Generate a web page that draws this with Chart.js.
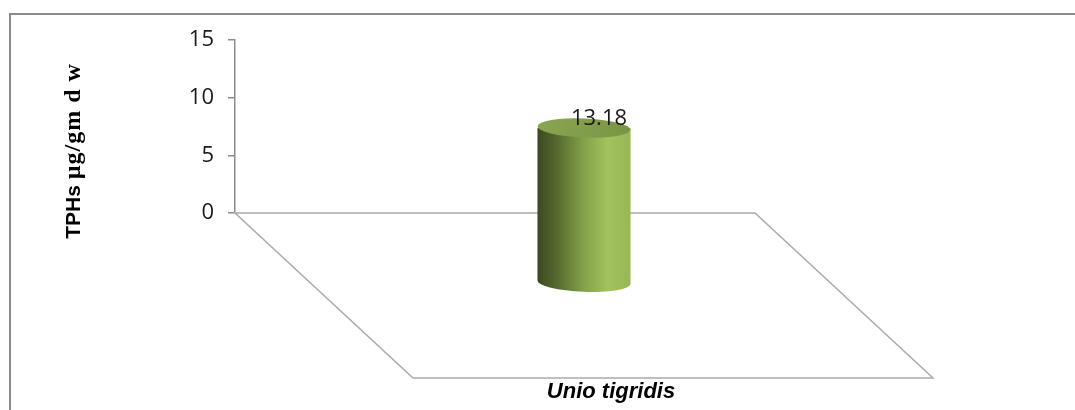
<!DOCTYPE html>
<html>
<head>
<meta charset="utf-8">
<script src="https://cdn.jsdelivr.net/npm/chart.js@4"></script>
<style>
  html, body { margin: 0; padding: 0; background: #fff; }
  #wrap { width: 1075px; height: 410px; position: relative; }
</style>
</head>
<body>
<div id="wrap"><canvas id="chart" width="1075" height="410"></canvas></div>
<script>
// data
const species = ['Unio tigridis'];
const tphs = [13.18];
const yTicks = [0, 5, 10, 15];

// floor depth (back edge -> front edge) and where the cylinder sits on it
const depthX = 178, depthY = 165;
const barShiftX = 89, barShiftY = 70;

const floorAndCylinder = {
  id: 'floorAndCylinder',
  beforeDraw(chart) {
    const c = chart.ctx;
    c.save();
    c.fillStyle = '#fff';
    c.fillRect(0, 0, chart.width, chart.height);
    // outer frame (top + left only)
    c.strokeStyle = '#8c8c8c';
    c.lineWidth = 2;
    c.beginPath();
    c.moveTo(10, 410);
    c.lineTo(10, 14);
    c.lineTo(1075, 14);
    c.stroke();
    c.restore();
  },
  beforeDatasetsDraw(chart) {
    const c = chart.ctx, a = chart.chartArea;
    const y0 = chart.scales.y.getPixelForValue(0);
    c.save();
    c.strokeStyle = '#ababab';
    c.lineWidth = 1.5;
    c.beginPath();
    c.moveTo(a.left, y0);
    c.lineTo(a.right, y0);
    c.lineTo(a.right + depthX, y0 + depthY);
    c.lineTo(a.left + depthX, y0 + depthY);
    c.closePath();
    c.stroke();
    c.restore();
  },
  afterDatasetsDraw(chart) {
    const c = chart.ctx;
    const meta = chart.getDatasetMeta(0);
    meta.data.forEach((bar, i) => {
      const cx = bar.x + barShiftX;
      const top = bar.y + barShiftY - 3;
      const base = bar.base + barShiftY;
      const rx = bar.width / 2;
      const ry = 9.5;
      const tilt = 0.04;
      c.save();
      const g = c.createLinearGradient(cx - rx, 0, cx + rx, 0);
      g.addColorStop(0, '#3c4a20');
      g.addColorStop(0.2, '#54672d');
      g.addColorStop(0.5, '#84a24a');
      g.addColorStop(0.75, '#a1c25d');
      g.addColorStop(1, '#97b655');
      c.fillStyle = g;
      c.beginPath();
      c.moveTo(cx - rx, top);
      c.lineTo(cx - rx, base);
      c.ellipse(cx, base, rx, ry, tilt, Math.PI, 0, true);
      c.lineTo(cx + rx, top);
      c.closePath();
      c.fill();
      // top cap
      const tg = c.createLinearGradient(cx - rx, top - ry, cx + rx, top + ry);
      tg.addColorStop(0, '#8aa651');
      tg.addColorStop(1, '#7a9445');
      c.fillStyle = tg;
      c.beginPath();
      c.ellipse(cx, top, rx, ry, tilt, 0, Math.PI * 2);
      c.fill();
      // value label
      c.fillStyle = '#1a1a1a';
      c.font = '22px "Open Sans", "Liberation Sans", sans-serif';
      c.textAlign = 'center';
      c.textBaseline = 'alphabetic';
      c.fillText(tphs[i].toFixed(2), cx + 15, top - 3);
      // category label under the floor
      c.fillStyle = '#000';
      c.font = 'italic bold 22px "Liberation Sans", sans-serif';
      c.textBaseline = 'middle';
      c.fillText(species[i], bar.x + 116, 392);
      c.restore();
    });

    // value axis title: sans "TPHs" + serif units
    const part1 = 'TPHs ', part2 = 'µg/gm d w';
    const f1 = 'bold 21px "Liberation Sans", sans-serif';
    const f2 = 'bold 24px "Liberation Serif", serif';
    c.save();
    c.font = f1; const w1 = c.measureText(part1).width;
    c.letterSpacing = '1px';
    c.font = f2; const w2 = c.measureText(part2).width;
    c.translate(80, 151);
    c.rotate(-Math.PI / 2);
    c.fillStyle = '#000';
    c.textAlign = 'left';
    c.textBaseline = 'alphabetic';
    const start = -(w1 + w2) / 2;
    c.letterSpacing = '0px';
    c.font = f1; c.fillText(part1, start, 0);
    c.letterSpacing = '1px';
    c.font = f2; c.fillText(part2, start + w1, 0);
    c.restore();
  }
};

new Chart(document.getElementById('chart'), {
  type: 'bar',
  data: {
    labels: species,
    datasets: [{
      label: 'TPHs',
      data: tphs,
      backgroundColor: 'rgba(0,0,0,0)',
      borderWidth: 0,
      categoryPercentage: 1,
      barPercentage: 0.179
    }]
  },
  options: {
    responsive: false,
    animation: false,
    layout: { padding: { left: 135, right: 320, top: 40, bottom: 197 } },
    plugins: { legend: { display: false }, tooltip: { enabled: false } },
    scales: {
      x: { display: false },
      y: {
        min: 0,
        max: 15,
        afterFit(scale) { scale.width = 100; },
        afterBuildTicks(scale) { scale.ticks = yTicks.map(v => ({ value: v })); },
        grid: { drawOnChartArea: false, drawTicks: true, tickLength: 7, color: '#8c8c8c', lineWidth: 1.5 },
        border: { display: true, color: '#8c8c8c', width: 1.5 },
        ticks: {
          padding: 14,
          color: '#1a1a1a',
          font: { family: '"Open Sans", "Liberation Sans", sans-serif', size: 22 }
        }
      }
    }
  },
  plugins: [floorAndCylinder]
});
</script>
</body>
</html>
